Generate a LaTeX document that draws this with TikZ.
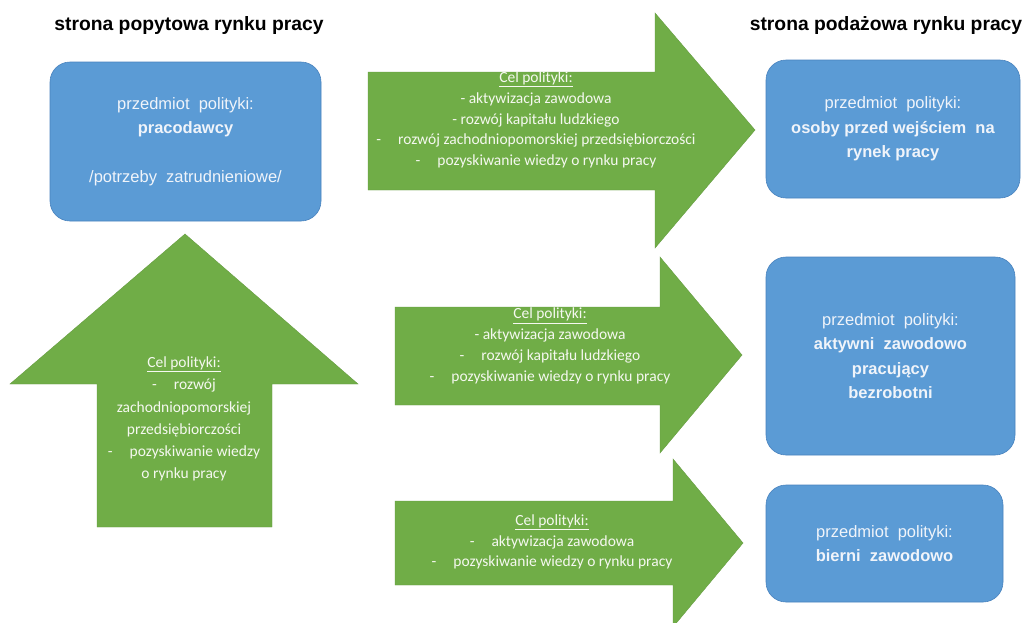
\documentclass[tikz,border=0pt]{standalone}
\usepackage{fontspec}
\setmainfont{Liberation Sans}
\newfontfamily\calib{Carlito}
\definecolor{boxblue}{RGB}{91,155,213}
\definecolor{boxedge}{RGB}{72,130,190}
\definecolor{arrgreen}{RGB}{112,173,71}
\definecolor{boxtext}{RGB}{240,244,250}
\definecolor{arrtext}{RGB}{245,248,240}
\tikzset{
  bluebox/.style={draw=boxedge, line width=0.6pt, fill=boxblue, rounded corners=20pt,
    text=boxtext, align=center, inner sep=0pt, font=\fontsize{16.5}{24.5}\selectfont},
  greenarrow/.style={fill=arrgreen, draw=arrgreen!90!black, line width=0.4pt},
  greentext/.style={text=arrtext, align=center, inner sep=0pt, font=\calib\fontsize{15.5}{20.8}\selectfont},
  heading/.style={text=black, inner sep=0pt, font=\fontsize{19.3}{23}\selectfont\bfseries},
}
\newcommand{\dsh}[1]{-\hspace{17pt}#1}
\begin{document}
\begin{tikzpicture}[x=1pt,y=-1pt]
\useasboundingbox (0,0) rectangle (1024,622);
\fill[white] (0,0) rectangle (1024,622);

% headings
\node[heading] (h1) at (189,26) {strona popytowa rynku pracy};
\node[heading] (h2) at (886,26) {strona podażowa rynku pracy};

% arrows
\draw[greenarrow] (368,72) -- (655,72) -- (655,13) -- (755,130) -- (655,248) -- (655,190) -- (368,190) -- cycle;
\draw[greenarrow] (395,307) -- (660,307) -- (660,257) -- (742,355) -- (660,453) -- (660,405) -- (395,405) -- cycle;
\draw[greenarrow] (395,501) -- (673,501) -- (673,459) -- (743,543) -- (673,627) -- (673,585) -- (395,585) -- cycle;
\draw[greenarrow] (97,527) -- (97,384) -- (10,384) -- (185,234) -- (358,384) -- (272,384) -- (272,527) -- cycle;

% blue boxes
\node[bluebox, minimum width=271pt, minimum height=159pt] (b1) at (185.5,141.5)
  {przedmiot\ \ polityki:\\ \textbf{pracodawcy}\\[24.5pt] /potrzeby\ \ zatrudnieniowe/};
\node[bluebox, minimum width=254pt, minimum height=138pt] (b2) at (893,129)
  {przedmiot\ \ polityki:\\ \textbf{osoby przed wejściem\ \ na}\\ \textbf{rynek pracy}};
\node[bluebox, minimum width=249pt, minimum height=198pt] (b3) at (890.5,356)
  {przedmiot\ \ polityki:\\ \textbf{aktywni\ \ zawodowo}\\ \textbf{pracujący}\\ \textbf{bezrobotni}};
\node[bluebox, minimum width=237pt, minimum height=117pt] (b4) at (884.5,543.5)
  {przedmiot\ \ polityki:\\ \textbf{bierni\ \ zawodowo}};

% arrow texts
\node[greentext] (t1) at (536,120)
  {\underline{Cel polityki:}\\ - aktywizacja zawodowa\\ - rozwój kapitału ludzkiego\\
   \dsh{rozwój zachodniopomorskiej przedsiębiorczości}\\ \dsh{pozyskiwanie wiedzy o rynku pracy}};
\node[greentext] (t2) at (550,346)
  {\underline{Cel polityki:}\\ - aktywizacja zawodowa\\ \dsh{rozwój kapitału ludzkiego}\\
   \dsh{pozyskiwanie wiedzy o rynku pracy}};
\node[greentext] (t3) at (552,542)
  {\underline{Cel polityki:}\\ \dsh{aktywizacja zawodowa}\\ \dsh{pozyskiwanie wiedzy o rynku pracy}};
\node[greentext, font=\calib\fontsize{15.5}{22.2}\selectfont] (t4) at (184,419)
  {\underline{Cel polityki:}\\ \dsh{rozwój}\\ zachodniopomorskiej\\ przedsiębiorczości\\
   \dsh{pozyskiwanie wiedzy}\\ o rynku pracy};
\end{tikzpicture}
\end{document}
